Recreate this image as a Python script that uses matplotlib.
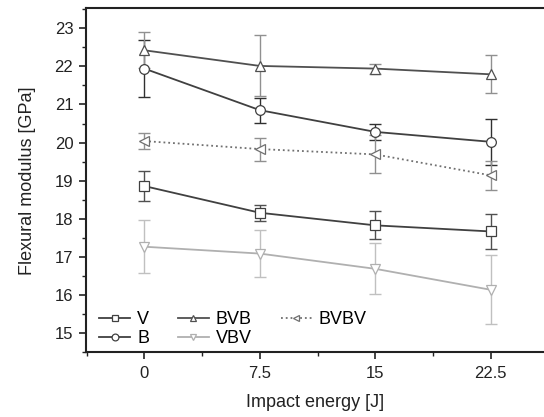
import matplotlib
matplotlib.use("Agg")
import matplotlib.pyplot as plt
from matplotlib.ticker import MultipleLocator

plt.rcParams['font.family'] = ['Liberation Sans', 'DejaVu Sans']

energy = [0, 7.5, 15, 22.5]
V = [18.86, 18.16, 17.83, 17.67]
V_err = [0.40, 0.21, 0.37, 0.47]
B = [21.94, 20.85, 20.28, 20.02]
B_err = [0.75, 0.33, 0.20, 0.61]
BVB = [22.42, 22.01, 21.94, 21.79]
BVB_err = [0.47, 0.80, 0.13, 0.50]
VBV = [17.27, 17.09, 16.69, 16.14]
VBV_err = [0.70, 0.62, 0.67, 0.90]
BVBV = [20.04, 19.83, 19.69, 19.14]
BVBV_err = [0.20, 0.30, 0.50, 0.38]

fig = plt.figure(figsize=(5.44, 4.17), dpi=100)
ax = fig.add_axes([0.159, 0.155, 0.841, 0.825])

series = [
    ("V", V, V_err, 's', '-', '#404040', '#505050'),
    ("B", B, B_err, 'o', '-', '#404040', '#303030'),
    ("BVB", BVB, BVB_err, '^', '-', '#505050', '#909090'),
    ("VBV", VBV, VBV_err, 'v', '-', '#b0b0b0', '#c0c0c0'),
    ("BVBV", BVBV, BVBV_err, '<', ':', '#707070', '#909090'),
]
handles = []
for name, y, e, m, ls, c, ec in series:
    ax.errorbar(energy, y, yerr=e, fmt='none', ecolor=ec, elinewidth=1.0,
                capsize=4, capthick=1.0, zorder=2)
    h, = ax.plot(energy, y, linestyle=ls, color=c, lw=1.3, marker=m, ms=7,
                 mfc='white', mec=c, mew=0.9, label=name, zorder=3)
    handles.append(h)

ax.set_xlim(-3.76, 25.95)
ax.set_ylim(14.5, 23.52)
ax.xaxis.set_minor_locator(MultipleLocator(3.75))
ax.yaxis.set_major_locator(MultipleLocator(1))
ax.yaxis.set_minor_locator(MultipleLocator(0.5))
ax.set_xticks(energy)
ax.set_xticklabels(['0', '7.5', '15', '22.5'])
ax.set_yticks(range(15, 24))
ax.tick_params(axis='both', which='major', direction='out', length=5, width=1.2,
               labelsize=12, colors='#222222', pad=4.5)
ax.tick_params(axis='both', which='minor', direction='out', length=3, width=1.0,
               colors='#222222')
for s in ['left', 'bottom', 'top']:
    ax.spines[s].set_linewidth(1.5)
    ax.spines[s].set_color('#222222')
ax.spines['right'].set_visible(False)

ax.set_xlabel('Impact energy [J]', fontsize=13, color='#222222', labelpad=10)
ax.set_ylabel('Flexural modulus [GPa]', fontsize=13, color='#222222', labelpad=13)

ax.legend(handles=handles, ncol=3, loc='lower left', bbox_to_anchor=(0.016, 0.0),
          frameon=False, fontsize=13,
          handlelength=1.7, handletextpad=0.4, columnspacing=1.6, labelspacing=0.1,
          borderaxespad=0.0, borderpad=0.3, markerscale=0.7)

fig.savefig('out.png', dpi=100)
